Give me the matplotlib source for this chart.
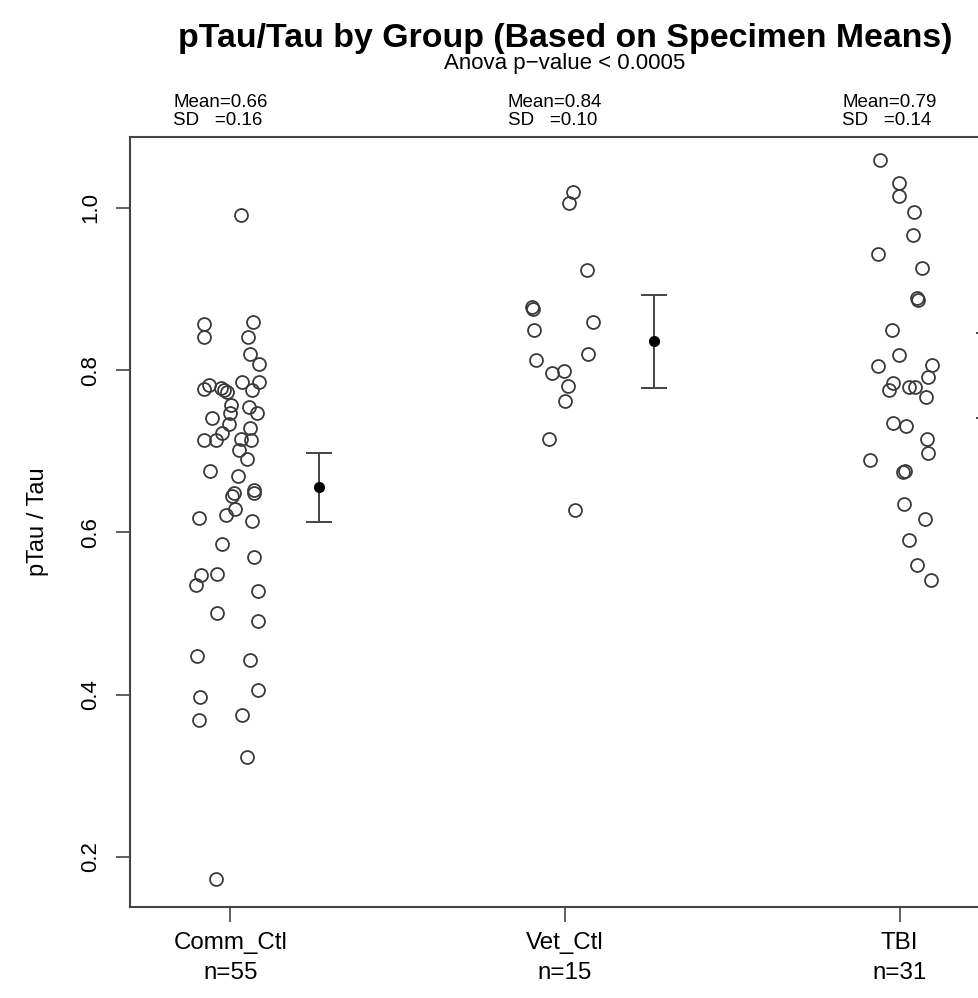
import numpy as np
import matplotlib.pyplot as plt

plt.rcParams['font.family'] = ['Liberation Sans', 'DejaVu Sans']

# grupos e rotulos
grupos = ['Comm_Ctl', 'Vet_Ctl', 'TBI']
n_grupos = [55, 15, 31]
media_txt = [0.66, 0.84, 0.79]
sd_txt = [0.16, 0.10, 0.14]

# valores (pTau/Tau) e deslocamento horizontal (jitter) de cada ponto
comm_y = [0.991, 0.857, 0.859, 0.841, 0.841, 0.820, 0.808, 0.785, 0.785, 0.777,
          0.782, 0.778, 0.773, 0.776, 0.757, 0.755, 0.747, 0.741, 0.747, 0.734,
          0.729, 0.714, 0.714, 0.723, 0.715, 0.714, 0.702, 0.690, 0.676, 0.670,
          0.649, 0.645, 0.652, 0.649, 0.629, 0.621, 0.618, 0.614, 0.586, 0.570,
          0.547, 0.535, 0.549, 0.528, 0.501, 0.491, 0.448, 0.443, 0.406, 0.397,
          0.375, 0.368, 0.323, 0.173, 0.775]
comm_jit = [0.033, -0.078, 0.069, -0.078, 0.054, 0.060, 0.084, 0.036, 0.084, -0.078,
            -0.063, -0.027, -0.009, 0.066, 0.003, 0.057, 0.078, -0.054, 0.000, -0.003,
            0.060, -0.078, -0.042, -0.024, 0.033, 0.063, 0.027, 0.051, -0.060, 0.024,
            0.012, 0.006, 0.072, 0.072, 0.015, -0.012, -0.093, 0.066, -0.024, 0.072,
            -0.087, -0.102, -0.039, 0.081, -0.039, 0.081, -0.099, 0.060, 0.081, -0.090,
            0.036, -0.093, 0.051, -0.042, -0.018]

vet_y = [1.020, 1.006, 0.924, 0.878, 0.876, 0.859, 0.850, 0.820, 0.813, 0.796,
         0.799, 0.781, 0.762, 0.715, 0.627]
vet_jit = [0.024, 0.012, 0.066, -0.099, -0.096, 0.084, -0.093, 0.069, -0.087, -0.039,
           -0.003, 0.009, 0.000, -0.048, 0.030]

tbi_y = [1.059, 1.031, 1.015, 0.995, 0.967, 0.943, 0.926, 0.887, 0.889, 0.849,
         0.819, 0.805, 0.806, 0.792, 0.784, 0.776, 0.779, 0.779, 0.767, 0.735,
         0.731, 0.715, 0.698, 0.689, 0.675, 0.676, 0.635, 0.617, 0.591, 0.560,
         0.541]
tbi_jit = [-0.060, -0.003, -0.003, 0.042, 0.039, -0.066, 0.066, 0.054, 0.051, -0.024,
           -0.003, -0.066, 0.096, 0.084, -0.021, -0.033, 0.027, 0.045, 0.078, -0.021,
           0.018, 0.081, 0.084, -0.090, 0.009, 0.015, 0.012, 0.075, 0.027, 0.051,
           0.093]

# media e intervalo de confianca
eb_media = [0.656, 0.836, 0.790]
eb_inf = [0.613, 0.778, 0.741]
eb_sup = [0.698, 0.893, 0.846]

fig = plt.figure(figsize=(9.79, 9.98), dpi=100)
ax = fig.add_axes([0.1328, 0.0912, 0.8887, 0.7715])

cinza = '#3a3a3a'
for i, (ys, js) in enumerate([(comm_y, comm_jit), (vet_y, vet_jit), (tbi_y, tbi_jit)]):
    x = i + 1 + np.array(js)
    ax.plot(x, ys, 'o', mfc='none', mec=cinza, ms=9.3, mew=1.3)

xs_eb = np.arange(1, 4) + 0.266
m = np.array(eb_media)
ax.errorbar(xs_eb, m, yerr=[m - np.array(eb_inf), np.array(eb_sup) - m],
            fmt='o', color='black', ms=7, ecolor='#444444', elinewidth=1.4,
            capsize=9.5, capthick=1.4)

ax.set_xlim(0.7, 3.3)
ax.set_ylim(0.138, 1.0875)
ax.set_xticks([1, 2, 3])
ax.set_xticklabels([f'{g}\nn={n}' for g, n in zip(grupos, n_grupos)],
                   fontsize=17.4, linespacing=1.5)
ax.set_yticks([0.2, 0.4, 0.6, 0.8, 1.0])
ax.set_yticklabels(['0.2', '0.4', '0.6', '0.8', '1.0'], rotation=90, va='center', fontsize=16)
ax.tick_params(axis='x', length=11, width=1.2, color='#444444', pad=7)
ax.tick_params(axis='y', length=10, width=1.2, color='#444444', pad=11)
for s in ax.spines.values():
    s.set_linewidth(1.5)
    s.set_color('#444444')

ax.set_ylabel('pTau / Tau', fontsize=17, labelpad=22)

# Mean / SD acima de cada grupo
for i in range(3):
    ax.text(i + 1 - 0.03, 1.0875 + 0.010,
            f'Mean={media_txt[i]:.2f}\nSD   ={sd_txt[i]:.2f}',
            ha='center', va='bottom', multialignment='left', fontsize=13.5,
            linespacing=1.05, transform=ax.transData, clip_on=False)

cx = (130 + 1000) / 2 / 979
fig.text(cx, 1 - 39 / 998, 'pTau/Tau by Group (Based on Specimen Means)',
         ha='center', va='center', fontsize=24.4, fontweight='bold')
fig.text(cx, 1 - 64 / 998, 'Anova p\u2212value < 0.0005',
         ha='center', va='center', fontsize=16)

fig.savefig('out.png', dpi=100)
